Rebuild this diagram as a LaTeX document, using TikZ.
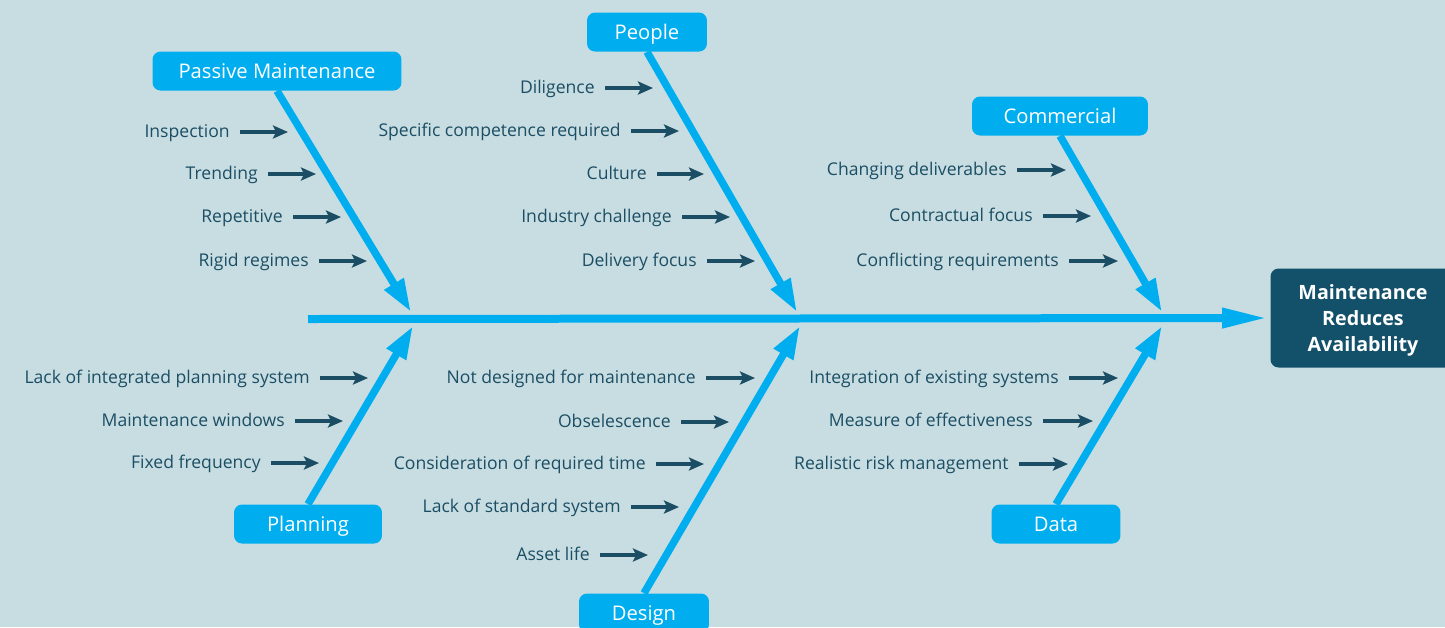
\documentclass[tikz,border=0pt]{standalone}
\usepackage{fontspec}
\setmainfont{Open Sans}
\usepackage{tikz}
\usetikzlibrary{arrows.meta}
\definecolor{bgblue}{HTML}{C8DDE2}
\definecolor{boneblue}{HTML}{00AEEF}
\definecolor{causeteal}{HTML}{1B4E64}
\definecolor{effectteal}{HTML}{13506A}

\begin{document}
\begin{tikzpicture}[x={(0.02cm,0)}, y={(0,-0.02cm)}, style={
  category/.style={
    rectangle, rounded corners=0.16cm,
    fill=boneblue, text=white,
    minimum height=0.78cm,
    text height=0.82em, text depth=0pt,
    font=\fontsize{11.5pt}{13pt}\selectfont,
  },
  effectstyle/.style={
    rectangle, rounded corners=0.16cm,
    fill=effectteal, text=white,
    minimum width=3.7cm, minimum height=1.98cm,
    align=center, text depth=0pt,
    font=\fontsize{11.2pt}{14.6pt}\selectfont\bfseries,
  },
  cause/.style={
    anchor=east, text=causeteal,
    inner xsep=0.2cm, inner ysep=0pt,
    text height=0.84em, text depth=0.16em,
    font=\fontsize{10pt}{12pt}\selectfont,
  },
  bonearrow/.style={-{Triangle[length=0.66cm, width=0.42cm]}, line width=0.15cm, draw=boneblue},
  spinearrow/.style={-{Triangle[length=0.92cm, width=0.37cm]}, line width=0.16cm, draw=boneblue},
  causearrow/.style={-{Stealth[length=0.3cm, width=0.26cm, inset=0.06cm]}, line width=0.07cm, draw=causeteal},
}]
\clip (0,0) rectangle (1445,627);
\fill[bgblue] (0,0) rectangle (1445,627);

\draw[]
  node[effectstyle] (effect) at (1363,318) {Maintenance\\Reduces\\Availability}
  node[category, minimum width=4.98cm] (passive) at (277,71) {Passive Maintenance}
  node[category, minimum width=2.4cm] (people) at (647,32) {People}
  node[category, minimum width=3.52cm] (commercial) at (1060,116) {Commercial}
  node[category, minimum width=2.96cm] (planning) at (308,524) {Planning}
  node[category, minimum width=2.6cm] (design) at (644,613) {Design}
  node[category, minimum width=2.58cm] (data) at (1056,524) {Data}
;

\coordinate (tail) at (308,319);
\coordinate (passive-tip) at (411,312);
\coordinate (people-tip) at (797,312);
\coordinate (commercial-tip) at (1162,312);
\coordinate (planning-tip) at (413,326);
\coordinate (design-tip) at (800,326);
\coordinate (data-tip) at (1162,326);

\draw[spinearrow, shorten >=0.04cm] (tail) -- (effect.west);
\draw[bonearrow] (passive.south) -- (passive-tip);
\draw[bonearrow] (people.south) -- (people-tip);
\draw[bonearrow] (commercial.south) -- (commercial-tip);
\draw[bonearrow] (planning.north) -- (planning-tip);
\draw[bonearrow] (design.north) -- (design-tip);
\draw[bonearrow] (data.north) -- (data-tip);

\node[cause] (inspection) at (240,132) {Inspection};
\node[cause] (trending) at (268,174) {Trending};
\node[cause] (repetitive) at (293,217) {Repetitive};
\node[cause] (rigid) at (319,261) {Rigid regimes};
\coordinate (inspection-end) at (288,132);
\coordinate (trending-end) at (316,174);
\coordinate (repetitive-end) at (341,217);
\coordinate (rigid-end) at (367,261);
\draw[causearrow] (inspection) -- (inspection-end);
\draw[causearrow] (trending) -- (trending-end);
\draw[causearrow] (repetitive) -- (repetitive-end);
\draw[causearrow] (rigid) -- (rigid-end);

\node[cause] (diligence) at (605,88) {Diligence};
\node[cause] (competence) at (631,131) {Specific competence required};
\node[cause] (culture) at (657,174) {Culture};
\node[cause] (industry) at (682,217) {Industry challenge};
\node[cause] (delivery) at (707,261) {Delivery focus};
\coordinate (diligence-end) at (653,88);
\coordinate (competence-end) at (679,131);
\coordinate (culture-end) at (704,174);
\coordinate (industry-end) at (730,217);
\coordinate (delivery-end) at (755,261);
\draw[causearrow] (diligence) -- (diligence-end);
\draw[causearrow] (competence) -- (competence-end);
\draw[causearrow] (culture) -- (culture-end);
\draw[causearrow] (industry) -- (industry-end);
\draw[causearrow] (delivery) -- (delivery-end);

\node[cause] (changing) at (1017,170) {Changing deliverables};
\node[cause] (contractual) at (1043,216) {Contractual focus};
\node[cause] (conflicting) at (1069,261) {Conflicting requirements};
\coordinate (changing-end) at (1066,170);
\coordinate (contractual-end) at (1091,216);
\coordinate (conflicting-end) at (1118,261);
\draw[causearrow] (changing) -- (changing-end);
\draw[causearrow] (contractual) -- (contractual-end);
\draw[causearrow] (conflicting) -- (conflicting-end);

\node[cause] (integrated) at (320,378) {Lack of integrated planning system};
\node[cause] (windows) at (295,421) {Maintenance windows};
\node[cause] (frequency) at (271,463) {Fixed frequency};
\coordinate (integrated-end) at (368,378);
\coordinate (windows-end) at (343,421);
\coordinate (frequency-end) at (319,463);
\draw[causearrow] (integrated) -- (integrated-end);
\draw[causearrow] (windows) -- (windows-end);
\draw[causearrow] (frequency) -- (frequency-end);

\node[cause] (notdesigned) at (706,378) {Not designed for maintenance};
\node[cause] (obselescence) at (681,422) {Obselescence};
\node[cause] (reqtime) at (656,464) {Consideration of required time};
\node[cause] (standard) at (631,507) {Lack of standard system};
\node[cause] (assetlife) at (600,555) {Asset life};
\coordinate (notdesigned-end) at (755,378);
\coordinate (obselescence-end) at (729,422);
\coordinate (reqtime-end) at (704,464);
\coordinate (standard-end) at (679,507);
\coordinate (assetlife-end) at (648,555);
\draw[causearrow] (notdesigned) -- (notdesigned-end);
\draw[causearrow] (obselescence) -- (obselescence-end);
\draw[causearrow] (reqtime) -- (reqtime-end);
\draw[causearrow] (standard) -- (standard-end);
\draw[causearrow] (assetlife) -- (assetlife-end);

\node[cause] (existing) at (1069,378) {Integration of existing systems};
\node[cause] (effectiveness) at (1043,421) {Measure of effectiveness};
\node[cause] (risk) at (1019,464) {Realistic risk management};
\coordinate (existing-end) at (1118,378);
\coordinate (effectiveness-end) at (1093,421);
\coordinate (risk-end) at (1068,464);
\draw[causearrow] (existing) -- (existing-end);
\draw[causearrow] (effectiveness) -- (effectiveness-end);
\draw[causearrow] (risk) -- (risk-end);
\end{tikzpicture}
\end{document}
